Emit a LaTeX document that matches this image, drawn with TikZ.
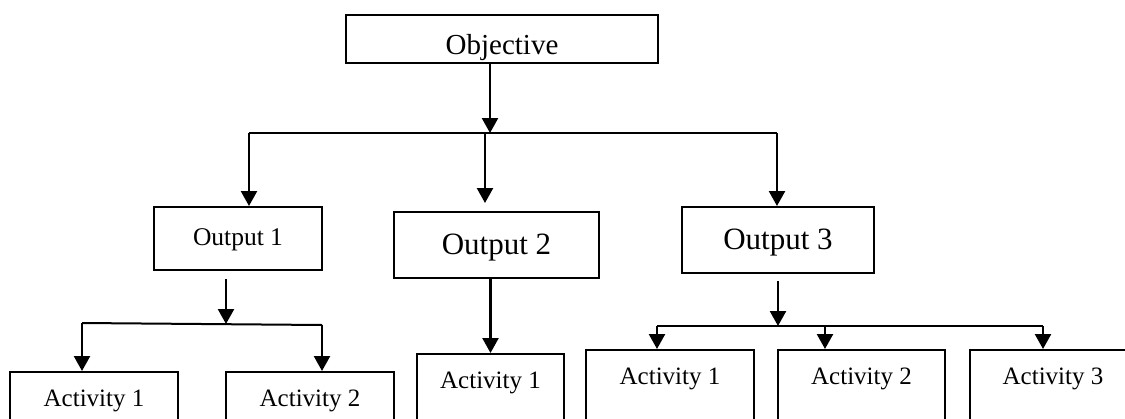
\documentclass[tikz,border=0pt]{standalone}
\usepackage{fontspec}
\setmainfont{Liberation Serif}
\usetikzlibrary{arrows.meta}
\begin{document}
\begin{tikzpicture}[x=1pt,y=-1pt,
  box/.style={draw, line width=2.2pt, anchor=north, inner xsep=0pt, inner ysep=0pt},
  actbox/.style={box, minimum width=#1, text height=34pt, text depth=80pt, font=\fontsize{25}{27}\selectfont},
  arr/.style={line width=2.4pt, -{Triangle[length=15pt,width=16pt]}},
  ln/.style={line width=2pt}]
\useasboundingbox (0,0) rectangle (1125,418);
\clip (0,0) rectangle (1125,418);
% boxes
\node[box, minimum width=312pt, text height=39pt, text depth=9pt, font=\fontsize{29}{31}\selectfont] (obj) at (502,14) {Objective};
\node[box, minimum width=168pt, text height=38pt, text depth=25pt, font=\fontsize{25.5}{27}\selectfont] (o1) at (238,206) {Output 1};
\node[box, minimum width=205pt, text height=42pt, text depth=24pt, font=\fontsize{31}{33}\selectfont] (o2) at (496.5,211) {Output 2};
\node[box, minimum width=192pt, text height=42pt, text depth=24pt, font=\fontsize{31}{33}\selectfont] (o3) at (778,206) {Output 3};
\node[actbox=168pt] (l1) at (94,371) {Activity 1};
\node[actbox=168pt] (l2) at (310,371) {Activity 2};
\node[actbox=147pt] (m1) at (490.5,353) {Activity 1};
\node[actbox=168pt] (r1) at (670,349) {Activity 1};
\node[actbox=167pt] (r2) at (861.5,349) {Activity 2};
\node[actbox=166pt] (r3) at (1053,349) {Activity 3};
% junction coordinates
\coordinate (j0) at (490,133);
\coordinate (h1a) at (249,133);
\coordinate (h1b) at (485,133);
\coordinate (h1c) at (777,133);
\coordinate (j1) at (226,324);
\coordinate (a1) at (82,323);
\coordinate (a2) at (322,325);
\coordinate (j3) at (778,326);
\coordinate (b1) at (657,326);
\coordinate (b2) at (825,326);
\coordinate (b3) at (1043,326);
% connectors
\draw[arr] (obj.south -| j0) -- (j0);
\draw[ln] (h1a) -- (h1c);
\draw[arr] (h1a) -- (h1a |- o1.north);
\draw[arr, shorten >=8pt] (h1b) -- (h1b |- o2.north);
\draw[arr] (h1c) -- (h1c |- o3.north);
\draw[arr, shorten <=8pt] (j1 |- o1.south) -- (j1);
\draw[ln] (a1) -- (a2);
\draw[arr] (a1) -- (a1 |- l1.north);
\draw[arr] (a2) -- (a2 |- l2.north);
\draw[arr] (m1.north |- o2.south) -- (m1.north);
\draw[arr, shorten <=7pt] (o3.south) -- (j3);
\draw[ln] (b1) -- (b3);
\draw[arr] (b1) -- (b1 |- r1.north);
\draw[arr] (b2) -- (b2 |- r2.north);
\draw[arr] (b3) -- (b3 |- r3.north);
\end{tikzpicture}
\end{document}
